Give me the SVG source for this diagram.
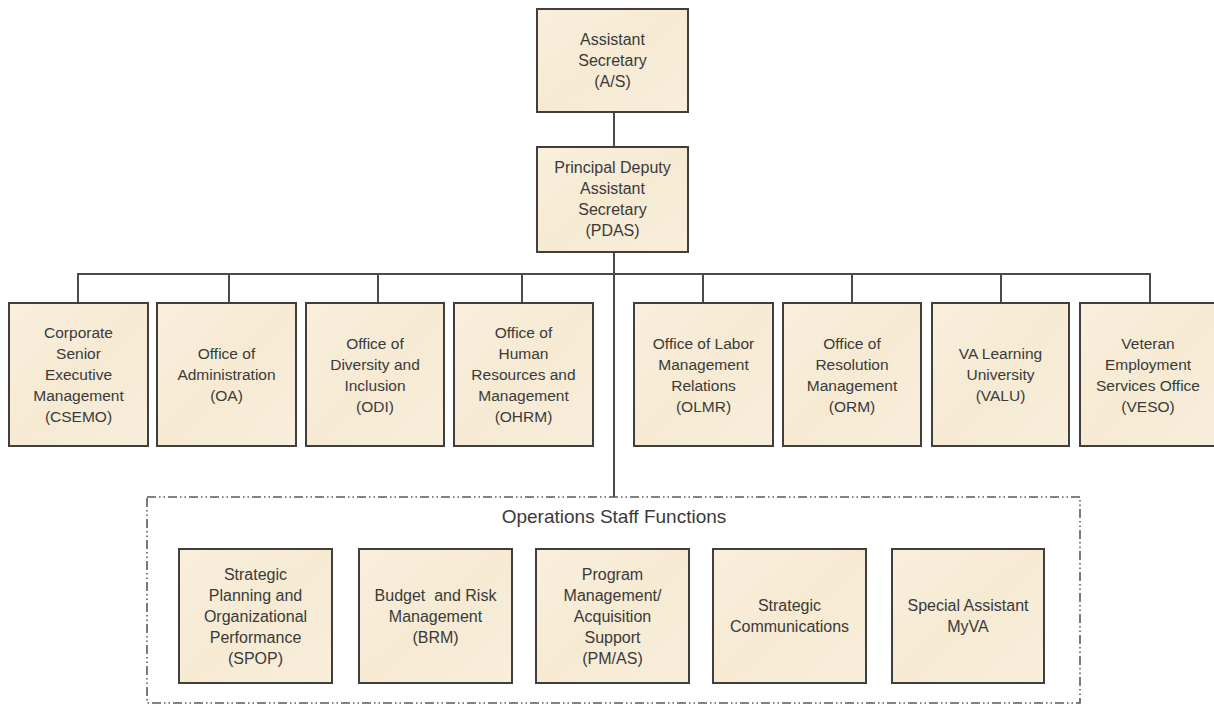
<svg xmlns="http://www.w3.org/2000/svg" width="1214" height="706" viewBox="0 0 1214 706">
<defs>
<linearGradient id="parch" x1="0" y1="0" x2="1" y2="1">
<stop offset="0" stop-color="#f9efdc"/>
<stop offset="0.5" stop-color="#f6ead3"/>
<stop offset="1" stop-color="#f8eedb"/>
</linearGradient>
<style>
.box{fill:url(#parch);stroke:#3f3f3f;stroke-width:2}
.t{font-family:"Liberation Sans",Arial,sans-serif;fill:#3a3a3a;text-anchor:middle}
.s16{font-size:16px}
.s15{font-size:15.5px}
.conn{stroke:#4a4a4a;stroke-width:2;fill:none}
.dash{fill:none;stroke:#5a5a5a;stroke-width:1.6;stroke-dasharray:9 3 1.5 3 1.5 3}
.title{font-family:"Liberation Sans",Arial,sans-serif;font-size:19px;fill:#3a3a3a;text-anchor:middle}
</style>
</defs>
<rect width="1214" height="706" fill="#ffffff"/>

<g id="connectors">
<line class="conn" x1="614" y1="112" x2="614" y2="147"/>
<line class="conn" x1="614" y1="252" x2="614" y2="497"/>
<polyline class="conn" points="78,303 78,274 1150,274 1150,303"/>
<line class="conn" x1="229" y1="274" x2="229" y2="303"/>
<line class="conn" x1="378" y1="274" x2="378" y2="303"/>
<line class="conn" x1="522" y1="274" x2="522" y2="303"/>
<line class="conn" x1="703" y1="274" x2="703" y2="303"/>
<line class="conn" x1="852" y1="274" x2="852" y2="303"/>
<line class="conn" x1="1001" y1="274" x2="1001" y2="303"/>
</g>

<g id="node-as">
<rect class="box" x="537" y="9" width="151" height="103"/>
<text class="t s16"><tspan x="612.5" y="45">Assistant</tspan><tspan x="612.5" y="66">Secretary</tspan><tspan x="612.5" y="87">(A/S)</tspan></text>
</g>
<g id="node-pdas">
<rect class="box" x="537" y="147" width="151" height="105"/>
<text class="t s16"><tspan x="612.5" y="173">Principal Deputy</tspan><tspan x="612.5" y="194">Assistant</tspan><tspan x="612.5" y="215">Secretary</tspan><tspan x="612.5" y="236">(PDAS)</tspan></text>
</g>

<g id="node-csemo">
<rect class="box" x="9" y="303" width="139" height="143"/>
<text class="t s15"><tspan x="78.5" y="338">Corporate</tspan><tspan x="78.5" y="359">Senior</tspan><tspan x="78.5" y="380">Executive</tspan><tspan x="78.5" y="401">Management</tspan><tspan x="78.5" y="422">(CSEMO)</tspan></text>
</g>
<g id="node-oa">
<rect class="box" x="157" y="303" width="139" height="143"/>
<text class="t s15"><tspan x="226.5" y="359">Office of</tspan><tspan x="226.5" y="380">Administration</tspan><tspan x="226.5" y="401">(OA)</tspan></text>
</g>
<g id="node-odi">
<rect class="box" x="306" y="303" width="138" height="143"/>
<text class="t s15"><tspan x="375" y="348.5">Office of</tspan><tspan x="375" y="369.5">Diversity and</tspan><tspan x="375" y="390.5">Inclusion</tspan><tspan x="375" y="411.5">(ODI)</tspan></text>
</g>
<g id="node-ohrm">
<rect class="box" x="454" y="303" width="139" height="143"/>
<text class="t s15"><tspan x="523.5" y="338">Office of</tspan><tspan x="523.5" y="359">Human</tspan><tspan x="523.5" y="380">Resources and</tspan><tspan x="523.5" y="401">Management</tspan><tspan x="523.5" y="422">(OHRM)</tspan></text>
</g>
<g id="node-olmr">
<rect class="box" x="634" y="303" width="139" height="143"/>
<text class="t s15"><tspan x="703.5" y="348.5">Office of Labor</tspan><tspan x="703.5" y="369.5">Management</tspan><tspan x="703.5" y="390.5">Relations</tspan><tspan x="703.5" y="411.5">(OLMR)</tspan></text>
</g>
<g id="node-orm">
<rect class="box" x="783" y="303" width="138" height="143"/>
<text class="t s15"><tspan x="852" y="348.5">Office of</tspan><tspan x="852" y="369.5">Resolution</tspan><tspan x="852" y="390.5">Management</tspan><tspan x="852" y="411.5">(ORM)</tspan></text>
</g>
<g id="node-valu">
<rect class="box" x="932" y="303" width="137" height="143"/>
<text class="t s15"><tspan x="1000.5" y="359">VA Learning</tspan><tspan x="1000.5" y="380">University</tspan><tspan x="1000.5" y="401">(VALU)</tspan></text>
</g>
<g id="node-veso">
<rect class="box" x="1080" y="303" width="140" height="143"/>
<text class="t s15"><tspan x="1148" y="348.5">Veteran</tspan><tspan x="1148" y="369.5">Employment</tspan><tspan x="1148" y="390.5">Services Office</tspan><tspan x="1148" y="411.5">(VESO)</tspan></text>
</g>

<g id="group-ops">
<rect class="dash" x="147" y="497" width="933" height="206"/>
<text class="title" x="614" y="523">Operations Staff Functions</text>
</g>

<g id="node-spop">
<rect class="box" x="179" y="549" width="153" height="134"/>
<text class="t s16"><tspan x="255.5" y="579.5">Strategic</tspan><tspan x="255.5" y="600.5">Planning and</tspan><tspan x="255.5" y="621.5">Organizational</tspan><tspan x="255.5" y="642.5">Performance</tspan><tspan x="255.5" y="663.5">(SPOP)</tspan></text>
</g>
<g id="node-brm">
<rect class="box" x="359" y="549" width="153" height="134"/>
<text class="t s16" xml:space="preserve"><tspan x="435.5" y="600.5">Budget  and Risk</tspan><tspan x="435.5" y="621.5">Management</tspan><tspan x="435.5" y="642.5">(BRM)</tspan></text>
</g>
<g id="node-pmas">
<rect class="box" x="536" y="549" width="153" height="134"/>
<text class="t s16"><tspan x="612.5" y="579.5">Program</tspan><tspan x="612.5" y="600.5">Management/</tspan><tspan x="612.5" y="621.5">Acquisition</tspan><tspan x="612.5" y="642.5">Support</tspan><tspan x="612.5" y="663.5">(PM/AS)</tspan></text>
</g>
<g id="node-stratcomm">
<rect class="box" x="713" y="549" width="153" height="134"/>
<text class="t s16"><tspan x="789.5" y="611">Strategic</tspan><tspan x="789.5" y="632">Communications</tspan></text>
</g>
<g id="node-myva">
<rect class="box" x="892" y="549" width="152" height="134"/>
<text class="t s16"><tspan x="968" y="611">Special Assistant</tspan><tspan x="968" y="632">MyVA</tspan></text>
</g>
</svg>
